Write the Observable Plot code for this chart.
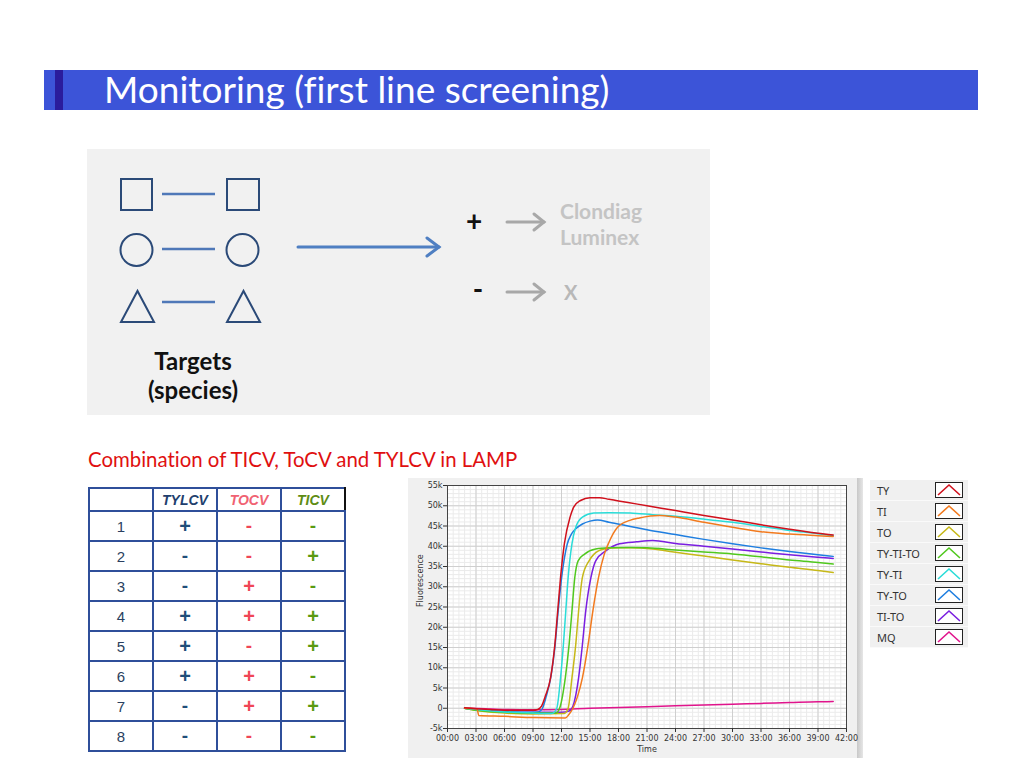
<!DOCTYPE html>
<html><head><meta charset="utf-8">
<script src="https://cdn.jsdelivr.net/npm/d3@7"></script>
<script src="https://cdn.jsdelivr.net/npm/@observablehq/plot@0.6"></script>
<style>
body{margin:0;width:1024px;height:768px;background:#fff;position:relative;overflow:hidden;font-family:Lato,"Noto Sans",sans-serif;font-variant-ligatures:none}
.abs{position:absolute}
#titlebar{left:44px;top:70px;width:934px;height:40px;background:#3c54d8}
#titlestrip{left:55px;top:70px;width:8px;height:40px;background:#2a1c9c}
#title{left:104px;top:67px;color:#fff;font-family:Lato,sans-serif;font-size:37px;line-height:44px;white-space:nowrap}
#caption{left:88px;top:447px;color:#e01010;font-family:Lato,sans-serif;font-size:20.4px;white-space:nowrap}
#tbl{left:88px;top:487px;border-collapse:collapse;font-family:"Liberation Sans",Arial,sans-serif}
#tbl td{border:2px solid #2f4f9a;text-align:center;padding:0;height:28px;width:62px;font-size:15px;color:#2a3f60}
#tbl tr.hd td{height:21px;font-weight:bold;font-style:italic;font-size:14px}
#tbl .sg{font-size:20px;font-weight:bold}
#tbl .mn{font-size:19px;font-weight:bold}
#panel{left:408px;top:478px;width:450px;height:280px;background:#f0f0f0}
#shadow{left:857px;top:478px;width:6px;height:280px;background:linear-gradient(to right,#c8c8c8,#e6e6e6)}
#legend{left:870px;top:480px;width:98px;background:#f0f0f0;font-family:"Noto Sans",sans-serif;font-size:11px;color:#333}
#legend .row{height:20px;position:relative;border-bottom:1px solid #fafafa}
#legend .lab{position:absolute;left:7px;top:3px}
#legend svg{position:absolute;left:65px;top:2px}
</style></head><body>
<div id="titlebar" class="abs"></div>
<div id="titlestrip" class="abs"></div>
<div id="title" class="abs">Monitoring (first line screening)</div>

<svg class="abs" style="left:87px;top:149px" width="623" height="266" viewBox="0 0 623 266">
  <rect x="0" y="0" width="623" height="266" fill="#f1f1f1"/>
  <g fill="none" stroke="#2b4a78" stroke-width="2">
    <rect x="34" y="30" width="31" height="31"/>
    <rect x="140" y="30" width="32" height="31"/>
    <circle cx="49.5" cy="101" r="16"/>
    <circle cx="155.5" cy="101" r="16"/>
    <polygon points="34,173 67,173 50.5,142"/>
    <polygon points="140,173 173,173 156.5,142"/>
  </g>
  <g stroke="#4f78b8" stroke-width="2.5">
    <line x1="75" y1="45" x2="128" y2="45"/>
    <line x1="75" y1="100" x2="128" y2="100"/>
    <line x1="75" y1="153" x2="128" y2="153"/>
  </g>
  <g stroke="#4f7fc2" stroke-width="3" fill="none" stroke-linecap="round">
    <line x1="211" y1="98" x2="352" y2="98"/>
    <polyline points="340,89 352,98 340,107"/>
  </g>
  <g stroke="#a8a8a8" stroke-width="3" fill="none" stroke-linecap="round">
    <line x1="420" y1="73" x2="457" y2="73"/>
    <polyline points="447,65 457,73 447,81"/>
    <line x1="420" y1="143" x2="457" y2="143"/>
    <polyline points="447,135 457,143 447,151"/>
  </g>
  <g font-family="Lato,sans-serif" font-weight="bold">
    <text x="387" y="82" font-size="28" text-anchor="middle" fill="#111">+</text>
    <text x="391" y="150" font-size="28" text-anchor="middle" fill="#111">-</text>
    <text x="473" y="70" font-size="21" fill="#c4c4c4">Clondiag</text>
    <text x="473" y="96" font-size="21" fill="#c4c4c4">Luminex</text>
    <text x="477" y="151" font-size="20" fill="#b8b8b8">X</text>
    <text x="106" y="221" font-size="24" text-anchor="middle" fill="#111">Targets</text>
    <text x="106" y="250" font-size="24" text-anchor="middle" fill="#111">(species)</text>
  </g>
</svg>

<div id="caption" class="abs">Combination of TICV, ToCV and TYLCV in LAMP</div>
<table id="tbl" class="abs"></table>

<div id="panel" class="abs"></div>
<div id="shadow" class="abs"></div>
<div id="chart" class="abs" style="left:408px;top:478px"></div>
<div id="legend" class="abs"></div>

<script>
// ---- chart data (time in minutes, fluorescence in thousands) ----
const seriesNames = ["TY", "TI", "TO", "TY-TI-TO", "TY-TI", "TY-TO", "TI-TO", "MQ"];
const seriesColors = ["#d0101c", "#f27a1e", "#c6b818", "#50c81e", "#2adcd8", "#1e7ee0", "#7a1ee0", "#e0148c"];
const drawOrder = ["MQ", "TI-TO", "TY-TO", "TO", "TY-TI-TO", "TY-TI", "TI", "TY"];

const TY = [[1.8,0.1],[3,-0.1],[4.5,-0.3],[6,-0.5],[7.5,-0.5],[9,-0.5],[9.5,-0.3],[9.9,0.5],[10.3,3],[10.85,7.5],[11.3,15.7],[11.6,24],[11.9,32.3],[12.3,40.6],[12.9,47.2],[13.3,49.7],[14,51.3],[15,52],[16,52],[17,51.6],[18,51.2],[19,50.8],[21,50],[24,48.8],[27,47.6],[30,46.5],[33,45.3],[36,44.2],[39,43.2],[40.6,42.8]];
const TI = [[1.8,0],[3.1,-0.1],[3.3,-1.8],[6,-2.0],[9,-2.3],[12.4,-2.4],[12.8,-1.5],[13.2,0],[13.7,3],[14.2,7.5],[14.8,15.7],[15.3,24],[15.9,32.3],[16.5,38],[17,41],[17.9,44.7],[19.2,46.4],[20.2,47],[22.3,47.6],[24,47.2],[27,45.9],[30,44.7],[33,43.6],[36,43],[39,42.6],[40.6,42.4]];
const TO = [[1.8,0],[3,-0.5],[6,-1.2],[9,-1.4],[12.3,-1.3],[12.7,0],[13.1,7.5],[13.5,15.7],[13.8,24],[14.2,32.3],[14.9,36.4],[15.4,38],[16.5,39.3],[18,39.6],[19.25,39.6],[21.6,39.3],[24,38.5],[27,37.6],[30,36.6],[33,35.7],[36,34.8],[39,34],[40.6,33.5]];
const TY_TI_TO = [[1.8,0],[3,-0.5],[6,-1.0],[9,-1.2],[11.4,-1.2],[11.8,0],[12.4,7.5],[12.8,15.7],[13.1,24],[13.4,32.3],[13.75,36.4],[14.4,38],[15.6,39.3],[17,39.6],[19.25,39.7],[21,39.6],[24,39.1],[27,38.6],[30,38.1],[33,37.4],[36,36.6],[39,36],[40.6,35.6]];
const TY_TI = [[1.8,0],[3,-0.3],[6,-0.9],[9,-1.2],[11,-1.3],[11.5,0],[11.9,7.5],[12.2,15.7],[12.45,24],[12.7,32.3],[13.1,40.6],[13.5,44.7],[14.2,47.2],[15.4,48.2],[17,48.3],[19.25,48.2],[21.6,47.8],[24,47.4],[27,46.7],[30,45.9],[33,44.9],[36,43.9],[39,43.1],[40.6,42.6]];
const TY_TO = [[1.8,0],[3,-0.3],[6,-0.8],[9,-1.0],[9.6,-0.9],[10,0],[10.4,3],[10.9,8],[11.3,15],[11.65,24],[12,32],[12.3,37],[12.6,40.5],[13,42.8],[13.5,44.3],[14.2,45.5],[15,46.2],[15.8,46.5],[17,45.9],[19.25,44.9],[21,44.1],[24,42.9],[27,41.7],[30,40.6],[33,39.6],[36,38.7],[39,37.9],[40.6,37.5]];
const TI_TO = [[1.8,0],[3,-0.3],[6,-0.8],[9,-1.0],[12,-1.0],[12.8,-0.7],[13.2,0.5],[13.8,7.5],[14.2,15.7],[14.55,24],[15.1,32.3],[15.6,36.4],[16.7,38.9],[18.1,40.6],[19.9,41.1],[21.6,41.4],[24,40.7],[27,40],[30,39.3],[33,38.6],[36,37.9],[39,37.3],[40.6,37]];
const MQ = [[1.8,0.1],[4,-0.1],[6,-0.3],[9,-0.4],[12,-0.3],[15,0],[18,0.2],[21,0.4],[24,0.6],[27,0.8],[30,1.0],[33,1.2],[36,1.4],[39,1.6],[40.6,1.65]];

const xTicks = [0, 3, 6, 9, 12, 15, 18, 21, 24, 27, 30, 33, 36, 39, 42];
const yTicks = [-5, 0, 5, 10, 15, 20, 25, 30, 35, 40, 45, 50, 55];

// ---- table data ----
const tableHeaders = ["", "TYLCV", "TOCV", "TICV"];
const tableRows = ["1", "2", "3", "4", "5", "6", "7", "8"];
const colTYLCV = ["+", "-", "-", "+", "+", "+", "-", "-"];
const colTOCV  = ["-", "-", "+", "+", "-", "+", "+", "-"];
const colTICV  = ["-", "+", "-", "+", "+", "-", "+", "-"];

// ---- build table ----
const headColors = ["#2a3f60", "#1f3f6e", "#f06272", "#5e8c14"];
const signColors = ["#1f4e79", "#f04656", "#5a9a12"];
const tbl = document.getElementById("tbl");
let html = "<tr class='hd'>" + tableHeaders.map((h, i) => `<td style="color:${headColors[i]}${i===3?';border-right-color:#111':''}">${h}</td>`).join("") + "</tr>";
tableRows.forEach((r, k) => {
  const cells = [colTYLCV[k], colTOCV[k], colTICV[k]];
  html += `<tr><td>${r}</td>` + cells.map((c, j) => `<td class="${c === "+" ? "sg" : "mn"}" style="color:${signColors[j]}">${c}</td>`).join("") + "</tr>";
});
tbl.innerHTML = html;

// ---- build chart ----
const seriesData = {"TY": TY, "TI": TI, "TO": TO, "TY-TI-TO": TY_TI_TO, "TY-TI": TY_TI, "TY-TO": TY_TO, "TI-TO": TI_TO, "MQ": MQ};
const data = drawOrder.flatMap(s => seriesData[s].map(([t, v]) => ({t, v, s})));
const fmtTime = d => String(d).padStart(2, "0") + ":00";
const fmtK = d => d === 0 ? "0" : d + "k";
const minorX = d3.range(0, 71).map(i => i * 0.6);
const minorY = d3.range(-5, 56, 1);

const chart = Plot.plot({
  width: 450, height: 280,
  marginLeft: 39, marginRight: 12, marginTop: 7, marginBottom: 30,
  style: {background: "transparent", fontFamily: "DejaVu Sans, sans-serif", fontSize: "8px", color: "#333", overflow: "visible"},
  x: {domain: [0, 42], label: null},
  y: {domain: [-5, 55], label: null},
  color: {domain: seriesNames, range: seriesColors},
  marks: [
    Plot.frame({fill: "white", stroke: null}),
    Plot.gridX(minorX, {stroke: "#ebebeb", strokeOpacity: 1}),
    Plot.gridY(minorY, {stroke: "#ebebeb", strokeOpacity: 1}),
    Plot.gridX(xTicks, {stroke: "#cfcfcf", strokeOpacity: 1}),
    Plot.gridY(yTicks, {stroke: "#cfcfcf", strokeOpacity: 1}),
    Plot.lineY(data, {x: "t", y: "v", z: "s", stroke: "s", strokeWidth: 1.5, curve: "monotone-x"}),
    Plot.frame({stroke: "#444"}),
    Plot.axisX(xTicks, {tickFormat: fmtTime, tickSize: 4, tickPadding: 3, label: null}),
    Plot.axisY(yTicks, {tickFormat: fmtK, tickSize: 4, tickPadding: 1, label: null}),
    Plot.text(["Time"], {frameAnchor: "bottom", dy: 23, fill: "#333"}),
    Plot.text(["Fluorescence"], {frameAnchor: "left", dx: -27, rotate: -90, fill: "#333"})
  ]
});
document.getElementById("chart").appendChild(chart);

// ---- legend ----
const legend = document.getElementById("legend");
seriesNames.forEach((name, i) => {
  const row = document.createElement("div");
  row.className = "row";
  row.innerHTML = `<span class="lab">${name}</span><svg width="28" height="16"><rect x="0.5" y="0.5" width="27" height="15" fill="white" stroke="#222"/><polyline points="3,13 14,3 25,13" fill="none" stroke="${seriesColors[i]}" stroke-width="1.6"/></svg>`;
  legend.appendChild(row);
});
</script>
</body></html>
